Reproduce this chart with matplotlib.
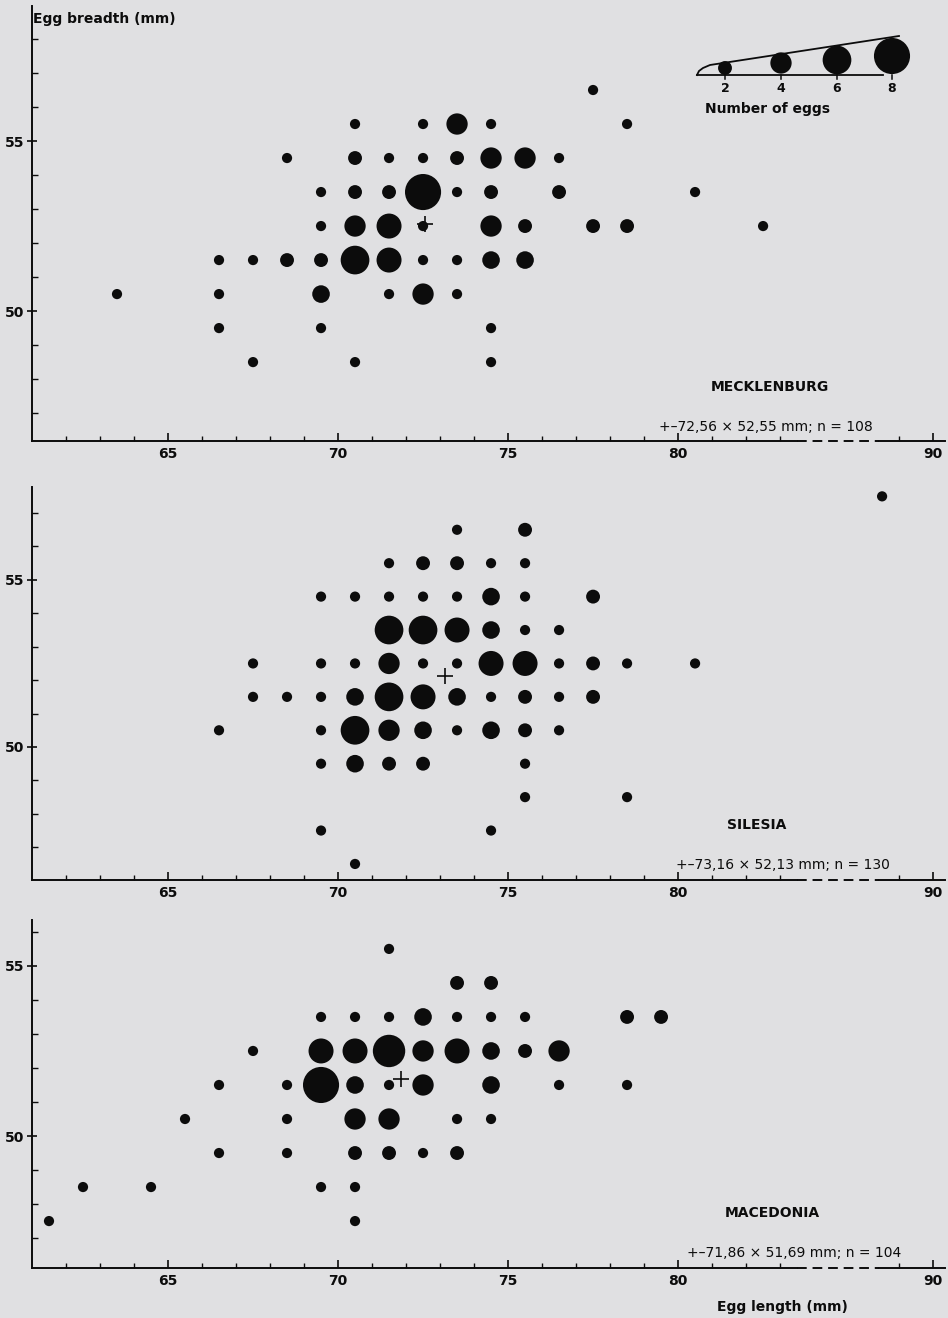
import numpy as np
import matplotlib.pyplot as plt

plt.rcParams['font.family'] = 'DejaVu Sans'
plt.rcParams['font.weight'] = 'bold'

W, H = 948, 1318

# egg length / breadth bin centres (mm) and number of eggs in each bin
# Mecklenburg
meck_len = [77.5,
            70.5, 72.5, 73.5, 74.5, 78.5,
            68.5, 70.5, 71.5, 72.5, 73.5, 74.5, 75.5, 76.5,
            69.5, 70.5, 71.5, 72.5, 73.5, 74.5, 76.5, 80.5,
            69.5, 70.5, 71.5, 72.5, 74.5, 75.5, 77.5, 78.5, 82.5,
            66.5, 67.5, 68.5, 69.5, 70.5, 71.5, 72.5, 73.5, 74.5, 75.5,
            63.5, 66.5, 69.5, 71.5, 72.5, 73.5,
            66.5, 69.5, 74.5,
            67.5, 70.5, 74.5]
meck_br = [56.5,
           55.5, 55.5, 55.5, 55.5, 55.5,
           54.5, 54.5, 54.5, 54.5, 54.5, 54.5, 54.5, 54.5,
           53.5, 53.5, 53.5, 53.5, 53.5, 53.5, 53.5, 53.5,
           52.5, 52.5, 52.5, 52.5, 52.5, 52.5, 52.5, 52.5, 52.5,
           51.5, 51.5, 51.5, 51.5, 51.5, 51.5, 51.5, 51.5, 51.5, 51.5,
           50.5, 50.5, 50.5, 50.5, 50.5, 50.5,
           49.5, 49.5, 49.5,
           48.5, 48.5, 48.5]
meck_n = [1,
          1, 1, 4, 1, 1,
          1, 2, 1, 1, 2, 4, 4, 1,
          1, 2, 2, 8, 1, 2, 2, 1,
          1, 4, 5, 1, 4, 2, 2, 2, 1,
          1, 1, 2, 2, 6, 5, 1, 1, 3, 3,
          1, 1, 3, 1, 4, 1,
          1, 1, 1,
          1, 1, 1]

# Silesia
sil_len = [88.5,
           73.5, 75.5,
           71.5, 72.5, 73.5, 74.5, 75.5,
           69.5, 70.5, 71.5, 72.5, 73.5, 74.5, 75.5, 77.5,
           71.5, 72.5, 73.5, 74.5, 75.5, 76.5,
           67.5, 69.5, 70.5, 71.5, 72.5, 73.5, 74.5, 75.5, 76.5, 77.5, 78.5, 80.5,
           67.5, 68.5, 69.5, 70.5, 71.5, 72.5, 73.5, 74.5, 75.5, 76.5, 77.5,
           66.5, 69.5, 70.5, 71.5, 72.5, 73.5, 74.5, 75.5, 76.5,
           69.5, 70.5, 71.5, 72.5, 75.5,
           75.5, 78.5,
           69.5, 74.5,
           70.5]
sil_br = [57.5,
          56.5, 56.5,
          55.5, 55.5, 55.5, 55.5, 55.5,
          54.5, 54.5, 54.5, 54.5, 54.5, 54.5, 54.5, 54.5,
          53.5, 53.5, 53.5, 53.5, 53.5, 53.5,
          52.5, 52.5, 52.5, 52.5, 52.5, 52.5, 52.5, 52.5, 52.5, 52.5, 52.5, 52.5,
          51.5, 51.5, 51.5, 51.5, 51.5, 51.5, 51.5, 51.5, 51.5, 51.5, 51.5,
          50.5, 50.5, 50.5, 50.5, 50.5, 50.5, 50.5, 50.5, 50.5,
          49.5, 49.5, 49.5, 49.5, 49.5,
          48.5, 48.5,
          47.5, 47.5,
          46.5]
sil_n = [1,
         1, 2,
         1, 2, 2, 1, 1,
         1, 1, 1, 1, 1, 3, 1, 2,
         6, 6, 5, 3, 1, 1,
         1, 1, 1, 4, 1, 1, 5, 5, 1, 2, 1, 1,
         1, 1, 1, 3, 6, 5, 3, 1, 2, 1, 2,
         1, 1, 6, 4, 3, 1, 3, 2, 1,
         1, 3, 2, 2, 1,
         1, 1,
         1, 1,
         1]

# Macedonia
mac_len = [71.5,
           73.5, 74.5,
           69.5, 70.5, 71.5, 72.5, 73.5, 74.5, 75.5, 78.5, 79.5,
           67.5, 69.5, 70.5, 71.5, 72.5, 73.5, 74.5, 75.5, 76.5,
           66.5, 68.5, 69.5, 70.5, 71.5, 72.5, 74.5, 76.5, 78.5,
           65.5, 68.5, 70.5, 71.5, 73.5, 74.5,
           66.5, 68.5, 70.5, 71.5, 72.5, 73.5,
           62.5, 64.5, 69.5, 70.5,
           61.5, 70.5]
mac_br = [55.5,
          54.5, 54.5,
          53.5, 53.5, 53.5, 53.5, 53.5, 53.5, 53.5, 53.5, 53.5,
          52.5, 52.5, 52.5, 52.5, 52.5, 52.5, 52.5, 52.5, 52.5,
          51.5, 51.5, 51.5, 51.5, 51.5, 51.5, 51.5, 51.5, 51.5,
          50.5, 50.5, 50.5, 50.5, 50.5, 50.5,
          49.5, 49.5, 49.5, 49.5, 49.5, 49.5,
          48.5, 48.5, 48.5, 48.5,
          47.5, 47.5]
mac_n = [1,
         2, 2,
         1, 1, 1, 3, 1, 1, 1, 2, 2,
         1, 5, 5, 7, 4, 5, 3, 2, 4,
         1, 1, 8, 3, 1, 4, 3, 1, 1,
         1, 1, 4, 4, 1, 1,
         1, 1, 2, 2, 1, 2,
         1, 1, 1, 1,
         1, 1]

regions = ['MECKLENBURG', 'SILESIA', 'MACEDONIA']
mean_len = [72.56, 73.16, 71.86]
mean_br = [52.55, 52.13, 51.69]
n_eggs = [108, 130, 104]
legend_counts = [2, 4, 6, 8]

paper = '#e0e0e2'
ink = '#0c0c0c'


def msize(n):
    # dot diameter in pixels grows roughly linearly with the number of eggs
    d_px = 6.5 + 3.7 * np.asarray(n, dtype=float)
    return (d_px * 0.72) ** 2


def xpos(v):
    # axis is broken between ~83.5 and 89 mm
    v = np.asarray(v, dtype=float)
    return np.where(v > 86, v - 2.5, v)


fig = plt.figure(figsize=(W / 100, H / 100), dpi=100, facecolor=paper)

# (top px, bottom px, ylim)
layout = [(6, 441, (46.18, 58.97)),
          (487, 880, (46.02, 57.78)),
          (920, 1268, (46.12, 56.35))]
data = [(meck_len, meck_br, meck_n), (sil_len, sil_br, sil_n), (mac_len, mac_br, mac_n)]

for i, ((top, bot, ylim), (xl, yb, nn)) in enumerate(zip(layout, data)):
    ax = fig.add_axes([32 / W, 1 - bot / H, (945 - 32) / W, (bot - top) / H])
    ax.set_facecolor('none')
    ax.scatter(xpos(xl), yb, s=msize(nn), color=ink, edgecolors='none', clip_on=False, zorder=3)
    ax.plot(mean_len[i], mean_br[i], marker='+', ms=11, mew=1.2, color=ink, zorder=4)
    ax.set_xlim(61.0, 87.85)
    ax.set_ylim(*ylim)

    for s in ['top', 'right', 'bottom']:
        ax.spines[s].set_visible(False)
    ax.spines['left'].set_linewidth(1.4)
    ax.spines['left'].set_color(ink)

    tr = ax.get_xaxis_transform()
    ax.plot([61.0, 83.5], [0, 0], transform=tr, color=ink, lw=1.4, clip_on=False)
    ax.plot([83.5, 85.9], [0, 0], transform=tr, color=ink, lw=1.4, ls=(0, (5, 3)), clip_on=False)
    ax.plot([85.9, 87.85], [0, 0], transform=tr, color=ink, lw=1.4, clip_on=False)

    ax.set_xticks([65, 70, 75, 80, 87.5])
    ax.set_xticklabels(['65', '70', '75', '80', '90'])
    ax.set_xticks(list(range(62, 84)) + [86.5], minor=True)
    ax.set_yticks([50, 55])
    ax.set_yticks([y for y in range(47, 59) if ylim[0] < y < ylim[1]], minor=True)
    ax.tick_params(axis='x', which='major', direction='in', length=6, width=1.2,
                   pad=4, labelsize=10, colors=ink)
    ax.tick_params(axis='x', which='minor', direction='in', length=3.5, width=1.0, colors=ink)
    ax.tick_params(axis='y', which='major', direction='inout', length=7, width=1.2,
                   pad=2, labelsize=10, colors=ink)
    ax.tick_params(axis='y', which='minor', direction='in', length=4, width=1.0, colors=ink)

# overlay in pixel coordinates for the annotations
ov = fig.add_axes([0, 0, 1, 1])
ov.set_xlim(0, W)
ov.set_ylim(H, 0)
ov.axis('off')
ov.set_facecolor('none')

ov.text(33, 19, 'Egg breadth (mm)', fontsize=10, ha='left', va='center', color=ink)
ov.text(782, 1307, 'Egg length (mm)', fontsize=10, ha='center', va='center', color=ink)

name_pos = [(770, 387), (757, 825), (772, 1213)]
stat_pos = [(766, 427), (783, 865), (794, 1253)]
for i in range(3):
    ov.text(*name_pos[i], regions[i], fontsize=10, ha='center', va='center', color=ink)
    lbl = '+\u2013{} \u00d7 {} mm; n = {}'.format(
        f'{mean_len[i]:.2f}'.replace('.', ','), f'{mean_br[i]:.2f}'.replace('.', ','), n_eggs[i])
    ov.text(*stat_pos[i], lbl, fontsize=10, fontweight='normal', ha='center', va='center', color=ink)

# size key
key_x = [725, 781, 837, 892]
key_y = [68, 63, 60, 56]
ov.plot([697, 883], [75, 75], color=ink, lw=1.3)
ov.plot([697, 699, 703, 710, 899], [75, 71, 68, 65, 36], color=ink, lw=1.3)
ov.scatter(key_x, key_y, s=msize(legend_counts), color=ink, edgecolors='none', zorder=3)
for x, c in zip(key_x, legend_counts):
    ov.plot([x, x], [75, 79], color=ink, lw=1.1)
    ov.text(x, 89, str(c), fontsize=9, ha='center', va='center', color=ink)
ov.text(768, 109, 'Number of eggs', fontsize=10, ha='center', va='center', color=ink)

fig.savefig('out.png', dpi=100, facecolor=paper)
